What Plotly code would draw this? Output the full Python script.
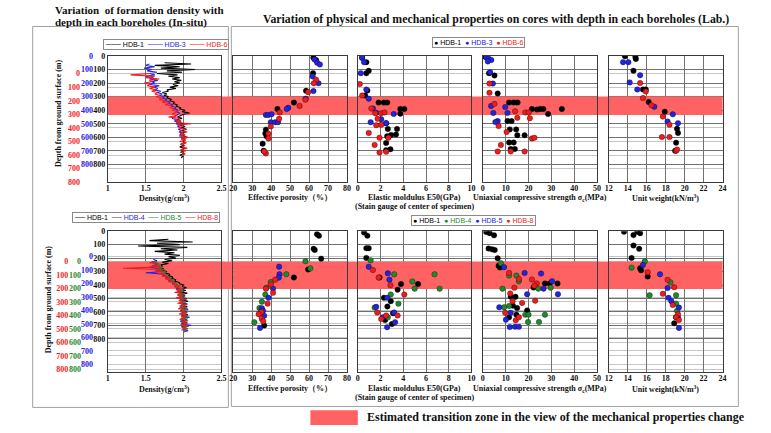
import plotly.graph_objects as go

W, H = 771, 433


def fx(px):
    return px / W


def fy(py):
    return 1 - py / H


# ---------------------------------------------------------------- colours / fonts
C_BLACK = "#000000"
C_BLUE = "#2424e0"
C_RED = "#f01c1c"
C_GREEN = "#1f8a2c"
GRID = "#707070"
GRID_LIGHT = "#c6c6c6"
FRAME = "#3a3a3a"
BAND = "#ff6262"
SERIF = "Liberation Serif"
SANS = "Liberation Sans"

# ---------------------------------------------------------------- depth axes
DEPTH_TICKS = [0, 100, 200, 300, 400, 500, 600, 700, 800]
TOP_DEPTH_MAX = 930          # HDB-1 depth at the bottom of the upper row
BOT_DEPTH_MAX = 1047         # HDB-1 depth at the bottom of the lower row
OFFSET_HDB6 = 130            # collar offsets of the secondary depth scales
OFFSET_HDB4 = 189
OFFSET_HDB5 = 225
OFFSET_HDB8 = 225
TOP_ZONE = [298, 435]        # estimated transition zone (HDB-1 depth)
BOT_ZONE = [225, 429]

# ---------------------------------------------------------------- in-situ density logs
# upper group: HDB-1, HDB-3 (HDB-1 depth scale), HDB-6 (own depth scale)
dep_hdb1_top = list(range(50, 760, 10))
rho_hdb1_top = [1.75, 2.10, 1.62, 1.95, 1.70, 2.15, 1.78, 1.98, 1.65, 1.92,
                1.80, 1.95, 1.85, 1.97, 1.88, 1.95, 1.86, 1.93, 1.82, 1.90,
                1.78, 1.80, 1.72, 1.78, 1.74, 1.80, 1.78, 1.84, 1.82, 1.88,
                1.86, 1.92, 1.90, 1.96, 1.95, 2.02, 1.98, 2.08, 2.00, 1.95,
                1.92, 1.98, 1.90, 1.96, 1.94, 2.00, 1.95, 2.02, 1.97, 2.04,
                1.98, 2.03, 1.96, 2.02, 1.98, 2.05, 1.97, 2.02, 1.99, 2.03,
                1.96, 2.01, 1.95, 2.02, 1.97, 2.00, 1.96, 2.02, 1.95, 1.99, 1.97]

dep_hdb3 = list(range(60, 610, 10))
rho_hdb3 = [1.55, 1.50, 1.62, 1.48, 1.58, 1.52, 1.65, 1.55, 1.62, 1.50,
            1.60, 1.55, 1.66, 1.58, 1.62, 1.55, 1.68, 1.60, 1.66, 1.62,
            1.70, 1.65, 1.72, 1.68, 1.75, 1.72, 1.78, 1.76, 1.82, 1.80,
            1.86, 1.84, 1.90, 1.88, 1.93, 1.90, 1.95, 1.92, 1.90, 1.88,
            1.85, 1.92, 1.88, 1.95, 1.90, 1.96, 1.92, 1.97, 1.93, 1.98,
            1.94, 1.99, 1.95, 2.00, 1.96]

dep_hdb6 = list(range(0, 610, 10))
rho_hdb6 = [1.55, 1.30, 1.62, 1.50, 1.68, 1.55, 1.58, 1.48, 1.56, 1.52,
            1.62, 1.55, 1.64, 1.58, 1.66, 1.62, 1.68, 1.64, 1.72, 1.68,
            1.76, 1.72, 1.80, 1.76, 1.85, 1.82, 1.88, 1.85, 1.92, 1.88,
            1.85, 1.92, 1.80, 1.95, 1.88, 1.97, 1.90, 2.10, 1.92, 1.98,
            1.94, 2.02, 1.95, 2.05, 1.96, 2.02, 1.94, 2.06, 1.97, 2.03,
            1.95, 2.04, 1.96, 2.02, 1.98, 2.05, 1.96, 2.03, 1.97, 2.02, 1.98]

# lower group: HDB-1, HDB-4, HDB-5, HDB-8 (each on its own depth scale)
dep_hdb1_bot = list(range(60, 730, 10))
rho_hdb1_bot = [1.80, 1.55, 2.12, 1.65, 1.95, 1.40, 2.05, 1.70, 1.92, 1.62,
                1.88, 1.75, 1.95, 1.80, 1.90, 1.75, 1.85, 1.72, 1.80, 1.70,
                1.72, 1.68, 1.74, 1.70, 1.78, 1.76, 1.82, 1.80, 1.86, 1.84,
                1.90, 1.88, 1.94, 1.95, 2.00, 1.98, 2.04, 1.96, 2.03, 1.94,
                2.05, 1.97, 2.02, 1.95, 2.04, 1.98, 2.06, 1.96, 2.03, 1.97,
                2.05, 1.98, 2.02, 1.96, 2.04, 1.99, 2.06, 1.97, 2.03, 1.98,
                2.05, 1.96, 2.02, 1.97, 2.04, 1.99, 2.02]

dep_hdb4 = list(range(20, 570, 10))
rho_hdb4 = [1.60, 1.65, 1.58, 1.66, 1.62, 1.68, 1.55, 1.70, 1.66, 1.74,
            1.50, 1.76, 1.72, 1.80, 1.76, 1.84, 1.80, 1.88, 1.85, 1.92,
            1.88, 1.95, 1.90, 1.97, 1.92, 1.98, 1.93, 2.02, 1.94, 2.00,
            1.95, 2.03, 1.96, 2.05, 1.97, 2.02, 1.95, 2.06, 1.98, 2.02,
            1.96, 2.04, 1.99, 2.08, 1.97, 2.03, 1.96, 2.05, 1.98, 2.10,
            1.97, 2.04, 1.99, 2.06, 2.00]

dep_hdb5 = list(range(0, 530, 10))
rho_hdb5 = [1.65, 1.60, 1.70, 1.64, 1.72, 1.66, 1.75, 1.68, 1.78, 1.72,
            1.80, 1.76, 1.84, 1.80, 1.88, 1.84, 1.92, 1.88, 1.96, 1.92,
            1.98, 1.94, 2.00, 1.93, 1.98, 1.92, 2.02, 1.95, 2.00, 1.94,
            2.03, 1.96, 2.01, 1.95, 2.04, 1.97, 2.02, 1.96, 2.05, 1.98,
            2.03, 1.97, 2.06, 1.99, 2.04, 1.97, 2.05, 1.99, 2.03, 1.98,
            2.06, 2.00, 2.02]

dep_hdb8 = list(range(0, 520, 10))
rho_hdb8 = [1.62, 1.55, 1.68, 1.58, 1.70, 1.20, 1.72, 1.62, 1.76, 1.66,
            1.78, 1.72, 1.82, 1.76, 1.86, 1.80, 1.90, 1.85, 1.95, 1.88,
            2.00, 1.90, 1.96, 1.88, 2.02, 1.92, 1.98, 1.90, 2.04, 1.94,
            2.00, 1.92, 2.05, 1.95, 2.02, 1.93, 2.06, 1.96, 2.03, 1.94,
            2.05, 1.97, 2.02, 1.95, 2.06, 1.98, 2.04, 1.96, 2.07, 1.98,
            2.03, 1.97]

# ---------------------------------------------------------------- laboratory core tests
# each series: (property values, depth in m)
# upper group
por_top_hdb1 = ([62.3, 63.7, 62.1, 58.4, 52.0, 43.3, 37.2, 36.9, 37.6, 35.5, 36.0],
                [14, 31, 127, 257, 344, 391, 543, 572, 591, 646, 699])
por_top_hdb3 = ([62.9, 64.3, 65.7, 61.9, 65.0, 62.3, 58.2, 49.0, 48.2, 37.2, 38.5, 40.2, 39.8, 42.1, 43.6],
                [27, 50, 63, 151, 202, 259, 315, 382, 391, 435, 435, 430, 488, 488, 488])
por_top_hdb6 = ([63.7, 62.5, 59.5, 58.1, 55.0, 44.5, 44.2, 39.8, 38.6, 38.6, 37.2, 36.3],
                [175, 202, 267, 322, 368, 416, 463, 519, 574, 608, 718, 704])

e50_top_hdb1 = ([0.38, 0.75, 0.96, 0.75, 0.84, 0.64, 1.83, 2.29, 2.58, 3.74, 4.09, 3.74, 2.49, 2.64,
                 3.45, 3.36, 2.93, 2.58, 2.49, 2.87, 2.49],
                [14, 46, 110, 127, 255, 291, 344, 344, 344, 391, 391, 425, 495, 538,
                 538, 579, 582, 591, 641, 687, 694])
e50_top_hdb3 = ([0.38, 0.55, 0.26, 0.75, 0.96, 1.33, 1.62, 3.16, 2.06, 1.13, 2.49],
                [14, 46, 127, 248, 315, 387, 418, 428, 466, 488, 495])
e50_top_hdb6 = ([0.17, 0.38, 1.19, 1.54, 2.06, 2.35, 1.74, 2.06, 1.62, 0.96, 1.91, 2.69, 1.48, 1.91, 2.49],
                [207, 291, 387, 423, 423, 416, 463, 507, 510, 567, 603, 603, 656, 711, 706])

ucs_top_hdb1 = ([0.1, 1.2, 2.7, 5.1, 6.5, 11.5, 13.5, 15.2, 21.5, 23.7, 25.1, 26.5, 28.6, 34.6,
                 10.8, 12.6, 11.8, 14.6, 15.1, 18.3, 11.5, 13.5, 12.2, 14.0],
                [0, 8, 127, 144, 276, 343, 343, 343, 391, 395, 391, 391, 428, 391,
                 480, 480, 541, 541, 584, 584, 637, 637, 685, 685])
ucs_top_hdb3 = ([1.5, 2.5, 3.7, 2.2, 3.2, 4.4, 3.6, 4.6, 9.8, 10.8, 6.5, 5.5],
                [12, 20, 30, 41, 120, 204, 368, 420, 377, 420, 480, 487])
ucs_top_hdb6 = ([2.9, 2.9, 5.1, 14.1, 18.6, 20.1, 15.1, 20.6, 6.9, 10.4, 21.5, 22.6, 7.9, 6.5, 12.2, 18.3],
                [204, 272, 353, 408, 416, 416, 456, 459, 517, 560, 608, 603, 656, 704, 704, 704])

uw_top_hdb1 = ([13.7, 14.85, 14.8, 14.6, 15.6, 15.9, 16.2, 17.9, 19.2, 19.3, 19.1, 19.0],
               [2, 22, 8, 110, 247, 247, 339, 411, 536, 567, 639, 699])
uw_top_hdb3 = ([13.5, 14.06, 15.3, 14.2, 15.0, 16.8, 18.75, 18.2, 19.3],
               [46, 46, 142, 195, 247, 375, 430, 483, 495])
uw_top_hdb6 = ([15.3, 15.9, 15.6, 16.5, 17.7, 18.4, 17.6, 18.4, 19.1, 19.2],
               [200, 262, 310, 363, 447, 507, 598, 598, 699, 690])

# lower group
por_bot_hdb1 = ([64.2, 65.2, 62.4, 63.0, 66.4, 59.5, 52.0, 36.3],
                [22, 34, 131, 140, 204, 284, 344, 701])
por_bot_hdb4 = ([58.1, 60.7, 48.0, 39.8, 37.5, 36.9, 35.1, 33.8, 34.5, 31.1],
                [223, 276, 320, 378, 420, 470, 524, 570, 600, 676])
por_bot_hdb5 = ([44.2, 44.4, 44.0, 41.0, 38.6, 35.1, 35.7, 36.3, 34.1],
                [264, 320, 345, 427, 495, 572, 590, 628, 718])
por_bot_hdb8 = ([42.1, 39.8, 37.2, 41.0, 38.1, 34.8, 33.4, 35.0, 35.8],
                [361, 395, 427, 458, 538, 600, 616, 650, 669])

e50_bot_hdb1 = ([0.55, 0.84, 0.75, 0.96, 0.75, 1.91, 3.8, 5.3, 3.5, 2.3, 2.9, 2.6, 3.1, 2.4, 3.0],
                [10, 34, 126, 126, 199, 344, 393, 393, 434, 495, 520, 560, 610, 660, 690])
e50_bot_hdb4 = ([1.13, 3.2, 4.8, 6.75, 7.2, 5.0, 2.9, 3.57, 2.64, 1.48],
                [216, 320, 373, 320, 427, 427, 470, 538, 640, 567])
e50_bot_hdb5 = ([0.96, 2.64, 2.78, 1.62, 2.58, 3.2, 2.58, 3.28, 2.2],
                [264, 313, 360, 562, 495, 604, 713, 676, 640])
e50_bot_hdb8 = ([1.33, 1.83, 2.87, 4.09, 1.71, 2.06, 2.49, 3.5],
                [289, 344, 402, 470, 604, 652, 626, 626])

ucs_bot_hdb1 = ([1.5, 3.0, 4.9, 2.5, 4.0, 5.2, 6.5, 6.9, 7.5, 22.2, 27.2, 29.3, 32.7, 12.2, 14.3,
                 13.2, 19.4, 15.0, 14.7, 11.5],
                [7, 15, 31, 129, 135, 140, 201, 257, 270, 419, 388, 388, 388, 487, 487,
                 553, 589, 570, 620, 640])
ucs_bot_hdb4 = ([7.9, 11.5, 14.7, 15.8, 8.6, 24.3, 29.7, 9.3, 18.6, 20.0, 27.2, 19.8, 24.6, 11.5],
                [238, 330, 330, 371, 427, 427, 420, 565, 620, 620, 620, 674, 674, 555])
ucs_bot_hdb5 = ([9.3, 18.3, 25.5, 30.3, 32.9, 26.6, 19.4, 7.2, 12.2, 10.1, 14.1, 15.8, 11.8],
                [267, 310, 315, 371, 468, 427, 468, 565, 606, 657, 710, 710, 712])
ucs_bot_hdb8 = ([11.5, 21.5, 15.8, 23.6, 22.6, 12.0, 13.8, 17.2, 13.0, 22.9, 9.8, 14.4, 15.8],
                [310, 359, 355, 388, 405, 462, 420, 533, 520, 516, 606, 662, 640])

uw_bot_hdb1 = ([13.6, 14.6, 15.0, 15.3, 14.6, 15.2, 14.4, 15.3, 15.4, 16.1, 18.9, 19.1],
               [5, 29, 5, 15, 107, 131, 199, 276, 290, 337, 684, 640])
uw_bot_hdb4 = ([15.8, 14.4, 16.3, 19.1, 18.5, 19.1, 19.2],
               [223, 271, 475, 475, 380, 538, 590])
uw_bot_hdb5 = ([15.6, 17.4, 18.2, 18.3, 18.6, 19.4, 19.3, 19.4],
               [252, 320, 422, 495, 520, 567, 640, 718])
uw_bot_hdb8 = ([16.1, 18.2, 18.9, 17.7, 18.75, 19.3, 19.1, 19.4],
               [305, 361, 417, 465, 548, 616, 640, 660])

# ---------------------------------------------------------------- panel geometry (px)
LEFT_X = (105, 220)
PANEL_X = [(232, 347), (358, 473), (484.5, 600), (612, 727)]
TOP_Y = (53, 182)
BOT_Y = (232, 376)
DENS_RANGE = [1, 2.5]
PANEL_RANGE = [[20, 80], [0, 10], [0, 50], [12, 24]]
PANEL_TICKS = [list(range(20, 81, 10)), list(range(0, 11, 2)), list(range(0, 51, 10)), list(range(12, 25, 2))]

TICKFONT = dict(family=SERIF, size=8, color="#111", weight="bold")

fig = go.Figure()


def add_zone(zone, xr, xa, ya):
    # transition zone filled across the full width of one subplot
    fig.add_trace(go.Scatter(x=[xr[0], xr[1], xr[1], xr[0], xr[0]],
                             y=[zone[0], zone[0], zone[1], zone[1], zone[0]],
                             mode="lines", fill="toself", fillcolor=BAND, line=dict(width=0),
                             xaxis=xa, yaxis=ya, showlegend=False, hoverinfo="skip"))


def add_log(rho, dep, color, xa, ya):
    fig.add_trace(go.Scatter(x=rho, y=dep, mode="lines", line=dict(color=color, width=1.1),
                             xaxis=xa, yaxis=ya, showlegend=False, hoverinfo="skip"))


def add_points(series, color, xa, ya):
    fig.add_trace(go.Scatter(x=series[0], y=series[1], mode="markers",
                             marker=dict(size=5.5, color=color, line=dict(width=0.6, color="rgba(0,0,0,0.55)")),
                             xaxis=xa, yaxis=ya, showlegend=False, hoverinfo="skip"))


# transition-zone fills (drawn first, under the data)
add_zone(TOP_ZONE, DENS_RANGE, "x", "y")
add_zone(BOT_ZONE, DENS_RANGE, "x6", "y8")
for i in range(4):
    add_zone(TOP_ZONE, PANEL_RANGE[i], f"x{i + 2}", f"y{i + 4}")
    add_zone(BOT_ZONE, PANEL_RANGE[i], f"x{i + 7}", f"y{i + 12}")

# density logs
add_log(rho_hdb1_top, dep_hdb1_top, C_BLACK, "x", "y")
add_log(rho_hdb3, dep_hdb3, C_BLUE, "x", "y2")
add_log(rho_hdb6, dep_hdb6, C_RED, "x", "y3")

add_log(rho_hdb1_bot, dep_hdb1_bot, C_BLACK, "x6", "y8")
add_log(rho_hdb4, dep_hdb4, C_BLUE, "x6", "y9")
add_log(rho_hdb5, dep_hdb5, C_GREEN, "x6", "y10")
add_log(rho_hdb8, dep_hdb8, C_RED, "x6", "y11")

# laboratory panels
top_sets = [
    [por_top_hdb1, por_top_hdb3, por_top_hdb6],
    [e50_top_hdb1, e50_top_hdb3, e50_top_hdb6],
    [ucs_top_hdb1, ucs_top_hdb3, ucs_top_hdb6],
    [uw_top_hdb1, uw_top_hdb3, uw_top_hdb6],
]
top_colors = [C_BLACK, C_BLUE, C_RED]
bot_sets = [
    [por_bot_hdb1, por_bot_hdb4, por_bot_hdb5, por_bot_hdb8],
    [e50_bot_hdb1, e50_bot_hdb4, e50_bot_hdb5, e50_bot_hdb8],
    [ucs_bot_hdb1, ucs_bot_hdb4, ucs_bot_hdb5, ucs_bot_hdb8],
    [uw_bot_hdb1, uw_bot_hdb4, uw_bot_hdb5, uw_bot_hdb8],
]
bot_colors = [C_BLACK, C_GREEN, C_BLUE, C_RED]

for i in range(4):
    for s, c in zip(top_sets[i], top_colors):
        add_points(s, c, f"x{i + 2}", f"y{i + 4}")
    for s, c in zip(bot_sets[i], bot_colors):
        add_points(s, c, f"x{i + 7}", f"y{i + 12}")


# ---------------------------------------------------------------- axes
def x_axis(px_span, rng, ticks, anchor, labels=None):
    ax = dict(domain=[fx(px_span[0]), fx(px_span[1])], range=rng, anchor=anchor,
              tickmode="array", tickvals=ticks, ticklabelstandoff=-2,
              showgrid=True, gridcolor=GRID, gridwidth=1, zeroline=False,
              showline=True, mirror=True, linecolor=FRAME, linewidth=1,
              ticks="", tickfont=TICKFONT, fixedrange=True)
    if labels is not None:
        ax["ticktext"] = labels
    return ax


def depth_axis(py_span, rng, anchor, minor_vals, labels):
    return dict(domain=[fy(py_span[1]), fy(py_span[0])], range=rng, anchor=anchor,
                tickmode="array", tickvals=DEPTH_TICKS, showticklabels=labels,
                tickfont=TICKFONT, ticks="",
                showgrid=True, gridcolor=GRID, gridwidth=1, zeroline=False,
                showline=True, mirror=True, linecolor=FRAME, linewidth=1,
                minor=dict(tickmode="array", tickvals=minor_vals, showgrid=True,
                           gridcolor=GRID_LIGHT, gridwidth=1, ticks=""),
                fixedrange=True)


def offset_axis(overlay, rng, pos_px, color):
    return dict(overlaying=overlay, range=rng, anchor="free", position=fx(pos_px), side="left",
                tickmode="array", tickvals=DEPTH_TICKS, ticks="", showgrid=False,
                zeroline=False, showline=False,
                tickfont=dict(family=SERIF, size=8, color=color, weight="bold"), fixedrange=True)


top_minor = [OFFSET_HDB6 + t for t in DEPTH_TICKS if OFFSET_HDB6 + t <= TOP_DEPTH_MAX]
bot_minor = ([OFFSET_HDB4 + t for t in DEPTH_TICKS if OFFSET_HDB4 + t <= BOT_DEPTH_MAX]
             + [OFFSET_HDB5 + t for t in DEPTH_TICKS if OFFSET_HDB5 + t <= BOT_DEPTH_MAX])

layout_axes = {}
dens_ticks = [1, 1.5, 2, 2.5]
dens_labels = ["1", "1.5", "2", "2.5"]
layout_axes["xaxis"] = x_axis(LEFT_X, DENS_RANGE, dens_ticks, "y", dens_labels)
layout_axes["yaxis"] = depth_axis(TOP_Y, [TOP_DEPTH_MAX, 0], "x", top_minor, True)
layout_axes["yaxis2"] = offset_axis("y", [TOP_DEPTH_MAX, 0], 90, C_BLUE)
layout_axes["yaxis3"] = offset_axis("y", [TOP_DEPTH_MAX - OFFSET_HDB6, -OFFSET_HDB6], 77, C_RED)

layout_axes["xaxis6"] = x_axis(LEFT_X, DENS_RANGE, dens_ticks, "y8", dens_labels)
layout_axes["yaxis8"] = depth_axis(BOT_Y, [BOT_DEPTH_MAX, 0], "x6", bot_minor, True)
layout_axes["yaxis9"] = offset_axis("y8", [BOT_DEPTH_MAX - OFFSET_HDB4, -OFFSET_HDB4], 90, C_BLUE)
layout_axes["yaxis10"] = offset_axis("y8", [BOT_DEPTH_MAX - OFFSET_HDB5, -OFFSET_HDB5], 78, C_GREEN)
layout_axes["yaxis11"] = offset_axis("y8", [BOT_DEPTH_MAX - OFFSET_HDB8, -OFFSET_HDB8], 65, C_RED)

for i in range(4):
    layout_axes[f"xaxis{i + 2}"] = x_axis(PANEL_X[i], PANEL_RANGE[i], PANEL_TICKS[i], f"y{i + 4}")
    layout_axes[f"yaxis{i + 4}"] = depth_axis(TOP_Y, [TOP_DEPTH_MAX, 0], f"x{i + 2}", top_minor, False)
    layout_axes[f"xaxis{i + 7}"] = x_axis(PANEL_X[i], PANEL_RANGE[i], PANEL_TICKS[i], f"y{i + 12}")
    layout_axes[f"yaxis{i + 12}"] = depth_axis(BOT_Y, [BOT_DEPTH_MAX, 0], f"x{i + 7}", bot_minor, False)

# ---------------------------------------------------------------- shapes
shapes = [
    # group frames
    dict(type="rect", xref="paper", yref="paper", x0=fx(29), x1=fx(227), y0=fy(412), y1=fy(23),
         line=dict(color="#a0a0a0", width=1), layer="below"),
    dict(type="rect", xref="paper", yref="paper", x0=fx(230), x1=fx(743), y0=fy(411), y1=fy(23),
         line=dict(color="#a0a0a0", width=1), layer="below"),
    # legend swatch for the transition zone
    dict(type="rect", xref="paper", yref="paper", x0=fx(310), x1=fx(358), y0=fy(430), y1=fy(415),
         fillcolor=BAND, line=dict(width=0), layer="above"),
]
# strip joining the transition zone across the gaps between subplots
for zone, yref in [(TOP_ZONE, "y"), (BOT_ZONE, "y8")]:
    shapes.append(dict(type="rect", xref="paper", yref=yref, x0=fx(LEFT_X[0]), x1=fx(PANEL_X[3][1]),
                       y0=zone[0], y1=zone[1], fillcolor=BAND, line=dict(width=0), layer="below"))

# ---------------------------------------------------------------- text
ann = []


def text(x, y, s, size=8, family=SERIF, bold=True, xanchor="center", angle=0, color="#111"):
    ann.append(dict(x=fx(x), y=fy(y), xref="paper", yref="paper", text=s, showarrow=False,
                    xanchor=xanchor, yanchor="middle", textangle=angle,
                    font=dict(family=family, size=size, color=color, weight="bold" if bold else "normal")))


text(50, 6, "Variation  of formation density with", size=11, xanchor="left")
text(50, 19, "depth in each boreholes (In-situ)", size=11, xanchor="left")
text(498, 15, "Variation of physical and mechanical properties on cores with depth in each boreholes (Lab.)",
     size=11.8)

text(55, 111, "Depth from ground surface (m)", angle=-90)
text(45, 301, "Depth from ground surface (m)", angle=-90)

x_titles = ["Effective porosity（%）", "Elastic moldulus E50(GPa)",
            "Uniaxial compressive strength σ<sub>c</sub>(MPa)", "Unit weight(kN/m<sup>3</sup>)"]
for row_y in (198, 393):
    text(162, row_y, "Density(g/cm<sup>3</sup>)")
    for i, t in enumerate(x_titles):
        cx = (PANEL_X[i][0] + PANEL_X[i][1]) / 2
        text(cx, row_y, t)
    text((PANEL_X[1][0] + PANEL_X[1][1]) / 2, row_y + 9, "(Stain gauge of center of specimen)")

text(365, 422, "Estimated transition zone in the view of the mechanical properties change",
     size=12, xanchor="left")


def legend_box(cx, cy, entries, glyph, gap="  "):
    parts = []
    for name, color in entries:
        parts.append(f"<span style='color:{color}'>{glyph}</span> <span style='color:{color}'>{name}</span>")
    ann.append(dict(x=fx(cx), y=fy(cy), xref="paper", yref="paper", text=gap.join(parts),
                    showarrow=False, xanchor="center", yanchor="middle",
                    bgcolor="white", bordercolor="#8a8a8a", borderwidth=1, borderpad=1,
                    font=dict(family=SANS, size=7, color="#111")))


legend_box(164, 41, [("HDB-1", C_BLACK), ("HDB-3", C_BLUE), ("HDB-6", C_RED)], "───")
legend_box(144, 218, [("HDB-1", C_BLACK), ("HDB-4", C_BLUE), ("HDB-5", C_GREEN), ("HDB-8", C_RED)], "──", "  ")
legend_box(480, 39, [("HDB-1", C_BLACK), ("HDB-3", C_BLUE), ("HDB-6", C_RED)], "●")
legend_box(475, 221, [("HDB-1", C_BLACK), ("HDB-4", C_GREEN), ("HDB-5", C_BLUE), ("HDB-8", C_RED)], "●")

fig.update_layout(
    width=W, height=H, margin=dict(l=0, r=0, t=0, b=0),
    paper_bgcolor="white", plot_bgcolor="rgba(0,0,0,0)",
    showlegend=False, shapes=shapes, annotations=ann,
    **layout_axes,
)

fig.write_html("out.html", config={"displayModeBar": False})
